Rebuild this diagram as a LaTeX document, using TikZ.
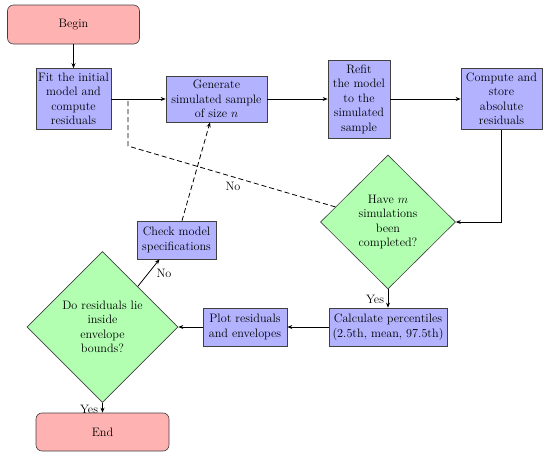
\documentclass[tikz,border=0pt]{standalone}
\usetikzlibrary{shapes.geometric,arrows.meta}
\begin{document}
\begin{tikzpicture}[x=1pt,y=-1pt,
  font=\fontsize{12.2}{14.5}\selectfont,
  proc/.style={rectangle,draw=black!75,fill=blue!30,line width=0.6pt,align=center,inner sep=1pt},
  term/.style={rectangle,rounded corners=6pt,draw=black!75,fill=red!30,line width=0.6pt,align=center},
  dec/.style={diamond,draw=black!75,fill=green!30,line width=0.6pt,align=center,inner sep=0pt},
  conn/.style={line width=0.8pt,-{Stealth[length=5pt,width=4pt]}},
  dconn/.style={conn,dash pattern=on 5pt off 3pt},
  dline/.style={line width=0.8pt,dash pattern=on 5pt off 3pt},
  lab/.style={inner sep=1pt}]
\useasboundingbox (0,0) rectangle (550,458);
\node[term,minimum width=132pt,minimum height=39pt] (begin) at (73.5,24.5) {Begin};
\node[proc,minimum width=75pt,minimum height=61pt] (fit) at (73.5,99) {Fit the initial\\model and\\compute\\residuals};
\node[proc,minimum width=101pt,minimum height=46pt] (gen) at (216.5,99) {Generate\\simulated sample\\of size $n$};
\node[proc,minimum width=62pt,minimum height=78pt] (refit) at (359,99) {Refit\\the model\\to the\\simulated\\sample};
\node[proc,minimum width=81pt,minimum height=61pt] (comp) at (501.5,99) {Compute and\\store\\absolute\\residuals};
\node[dec,minimum width=135pt,minimum height=134pt] (have) at (388,222) {Have $m$\\simulations\\been\\completed?};
\node[proc,minimum width=118pt,minimum height=38pt] (calc) at (388,327) {Calculate percentiles\\(2.5th, mean, 97.5th)};
\node[proc,minimum width=84pt,minimum height=38pt] (plot) at (245,327) {Plot residuals\\and envelopes};
\node[dec,minimum width=151pt,minimum height=151pt] (do) at (102.5,327) {Do residuals lie\\inside\\envelope\\bounds?};
\node[proc,minimum width=79pt,minimum height=38pt] (check) at (176.5,240) {Check model\\specifications};
\node[term,minimum width=133pt,minimum height=38pt] (end) at (102.5,432) {End};

\draw[conn] (begin) -- (fit);
\draw[conn] (fit) -- (gen);
\draw[conn] (gen) -- (refit);
\draw[conn] (refit) -- (comp);
\draw[conn] (comp.south) |- (have.east);
\draw[conn] (have) -- (calc);
\draw[conn] (calc) -- (plot);
\draw[conn] (plot) -- (do);
\draw[conn] (do) -- (end);
\draw[conn] (do.49) -- ([xshift=-17pt]check.south);
\draw[dconn] ([xshift=5.5pt]check.north) -- ([xshift=-6.5pt]gen.south);
\coordinate (c1) at (128,146);
\coordinate (c2) at (128,99);
\draw[dline] (have.164) -- (c1) -- (c2);

\node[lab] (no1) at (233,186) {No};
\node[lab] (no2) at (164,273) {No};
\node[lab] (yes1) at (375,299) {Yes};
\node[lab] (yes2) at (89,409) {Yes};
\end{tikzpicture}
\end{document}
